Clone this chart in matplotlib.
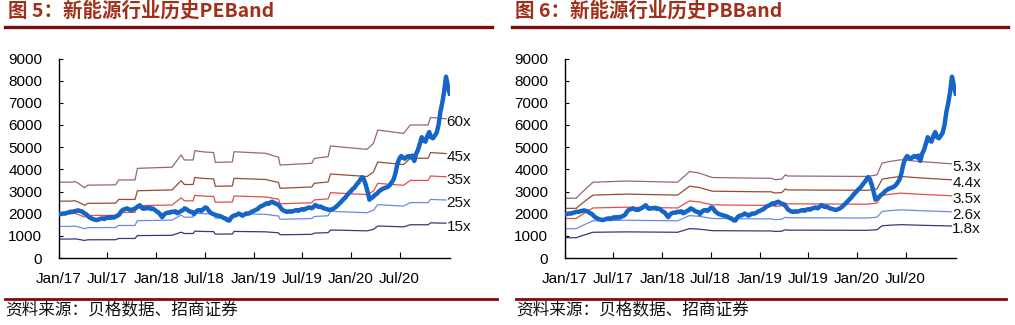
"""
New-energy sector valuation bands (PE band / PB band)
"""

import matplotlib.pyplot as plt
import matplotlib.dates as mdates
from matplotlib.lines import Line2D
import numpy as np
import pandas as pd

plt.rcParams['font.family'] = ['Liberation Sans', 'Noto Sans CJK SC', 'DejaVu Sans']
CJK = ['Noto Sans CJK SC', 'DejaVu Sans']

# Sector index close, weekly from 2017-01-03
index_close = [
    1970, 1990, 2010, 2000, 2040, 2060, 2090, 2080, 2110, 2130, 2150, 2120, 2100,
    2030, 1990, 1910, 1830, 1790, 1750, 1730, 1710, 1740, 1770, 1790, 1760, 1800,
    1840, 1810, 1850, 1820, 1870, 1900, 1960, 2100, 2180, 2200, 2240, 2200, 2170,
    2170, 2220, 2260, 2330, 2380, 2260, 2220, 2250, 2240, 2270, 2210, 2230, 2170,
    2100, 2060, 1950, 1840, 1960, 2020, 2050, 2040, 2090, 2070, 2110, 2020, 2060,
    2120, 2150, 2240, 2200, 2140, 2090, 2080, 1980, 2080, 2150, 2160, 2120, 2200,
    2280, 2250, 2120, 2040, 1990, 1960, 1930, 1910, 1890, 1850, 1800, 1780, 1700,
    1690, 1830, 1900, 1920, 1950, 2010, 1960, 1910, 1960, 2010, 2000, 2030, 2090,
    2120, 2170, 2200, 2280, 2340, 2370, 2420, 2470, 2440, 2510, 2540, 2480, 2450,
    2410, 2330, 2200, 2140, 2100, 2080, 2110, 2090, 2110, 2140, 2160, 2130, 2180,
    2200, 2180, 2230, 2260, 2280, 2240, 2300, 2390, 2340, 2300, 2320, 2260, 2230,
    2210, 2180, 2170, 2200, 2240, 2300, 2380, 2460, 2550, 2640, 2720, 2830, 2930,
    3010, 3110, 3180, 3300, 3400, 3520, 3650, 3560, 3300, 3000, 2630, 2700, 2760,
    2850, 2900, 3000, 3060, 3120, 3150, 3180, 3220, 3300, 3420, 3560, 3850, 4250,
    4480, 4600, 4520, 4480, 4560, 4600, 4540, 4620, 4380, 4700, 4880, 5150, 5450,
    5300, 5250, 5500, 5680, 5450, 5400, 5520, 5650, 6000, 6600, 7000, 7500, 8180,
    7750, 7420,
]

# Trailing EPS of the index (change points)
eps_dates = [
    '2017-01-03', '2017-02-15', '2017-03-01', '2017-03-13', '2017-04-07', '2017-04-19',
    '2017-08-01', '2017-08-13', '2017-10-13', '2017-10-22', '2018-03-01', '2018-03-16',
    '2018-04-04', '2018-04-16', '2018-05-19', '2018-05-25', '2018-07-01', '2018-08-04',
    '2018-08-10', '2018-10-13', '2018-10-19', '2019-02-15', '2019-03-19', '2019-04-04',
    '2019-04-10', '2019-08-07', '2019-08-16', '2019-10-07', '2019-10-16', '2020-03-01',
    '2020-03-25', '2020-04-10', '2020-07-16', '2020-08-10', '2020-10-16', '2020-10-25',
    '2020-12-22',
]
eps_values = [
    57.0, 57.0, 57.5, 56.3, 52.8, 54.8,
    55.0, 58.7, 58.7, 67.4, 68.3, 72.4,
    77.5, 73.7, 73.7, 80.7, 79.7, 79.3,
    71.9, 72.2, 79.9, 78.7, 76.7, 75.8,
    69.9, 71.2, 74.9, 76.2, 84.2, 81.7,
    86.2, 96.2, 93.7, 100.0, 100.0, 105.7,
    104.7,
]
pe_multiples = [60, 45, 35, 25, 15]
pe_labels = ['60x', '45x', '35x', '25x', '15x']

# Book value per share of the index (change points)
bps_dates = [
    '2017-01-03', '2017-02-12', '2017-02-24', '2017-03-22', '2017-04-16', '2017-08-19',
    '2018-02-27', '2018-03-16', '2018-04-13', '2018-05-19', '2018-07-07', '2019-01-01',
    '2019-02-12', '2019-03-01', '2019-03-25', '2019-04-07', '2019-04-16', '2020-02-10',
    '2020-03-16', '2020-04-04', '2020-05-01', '2020-06-13', '2020-08-25', '2020-12-20',
]
bps_values = [
    509, 509, 538, 594, 645, 655,
    645, 679, 736, 723, 685, 679,
    679, 666, 672, 708, 698, 694,
    708, 808, 821, 836, 821, 802,
]
pb_multiples = [5.3, 4.4, 3.5, 2.6, 1.8]
pb_labels = ['5.3x', '4.4x', '3.5x', '2.6x', '1.8x']

band_colors = ['#8e5273', '#8a3a1c', '#e23a34', '#5b7fe0', '#22226e']
index_color = '#1565c8'
title_color = '#a0301a'
rule_color = '#7d0c0c'

W, H = 1015, 325


def draw_panel(ax, band_dates, base, multiples, labels):
    dates = pd.date_range('2017-01-03', periods=len(index_close), freq='7D')
    bd = pd.to_datetime(band_dates)
    base = np.array(base, dtype=float)
    for mult, lab, col in zip(multiples, labels, band_colors):
        vals = base * mult
        ax.plot(bd, vals, color=col, lw=0.9, alpha=0.9, zorder=2)
        ax.annotate(lab, xy=(bd[-1], vals[-1]), xytext=(0.5, -2.5),
                    textcoords='offset points', ha='left', va='center',
                    fontsize=11, color='#111111')
    ax.plot(dates, index_close, color=index_color, lw=3.2, zorder=3,
            solid_joinstyle='round')

    ax.set_xlim(pd.Timestamp('2017-01-01'), pd.Timestamp('2021-01-06'))
    ax.set_ylim(0, 9000)
    ax.set_yticks(range(0, 9001, 1000))
    ticks = pd.date_range('2017-01-01', '2020-07-01', freq='6MS')
    ax.set_xticks(ticks)
    ax.xaxis.set_major_formatter(mdates.DateFormatter('%b/%y'))
    ax.tick_params(axis='y', direction='in', length=3, pad=12, labelsize=11)
    ax.tick_params(axis='x', direction='in', length=4, pad=10, labelsize=11)
    for side in ('top', 'right'):
        ax.spines[side].set_visible(False)
    for side in ('left', 'bottom'):
        ax.spines[side].set_linewidth(1.0)
        ax.spines[side].set_color('black')


fig = plt.figure(figsize=(W / 100, H / 100), dpi=100)

ax1 = fig.add_axes([59 / W, 1 - 258 / H, 391 / W, 199.5 / H])
draw_panel(ax1, eps_dates, eps_values, pe_multiples, pe_labels)

ax2 = fig.add_axes([565 / W, 1 - 258 / H, 391 / W, 199.5 / H])
draw_panel(ax2, bps_dates, bps_values, pb_multiples, pb_labels)

# Headers, rules and source notes
for x0, x1, title in [(5, 492, '图 5：新能源行业历史PEBand'),
                      (512, 1008, '图 6：新能源行业历史PBBand')]:
    fig.text((x0 + 3) / W, 1 - 11 / H, title, family=CJK, fontsize=14,
             fontweight='bold', color=title_color, va='center', ha='left')
    fig.add_artist(Line2D([x0 / W, x1 / W], [1 - 27 / H] * 2,
                          color=rule_color, lw=2.4))

for x0, x1 in [(5, 497), (516, 1006)]:
    fig.add_artist(Line2D([x0 / W, x1 / W], [1 - 299 / H] * 2,
                          color=rule_color, lw=2.0))
    fig.text(x0 / W, 1 - 310 / H, '资料来源：贝格数据、招商证券', family=CJK,
             fontsize=12, color='#111111', va='center', ha='left')

fig.savefig('out.png', dpi=100, facecolor='white')
